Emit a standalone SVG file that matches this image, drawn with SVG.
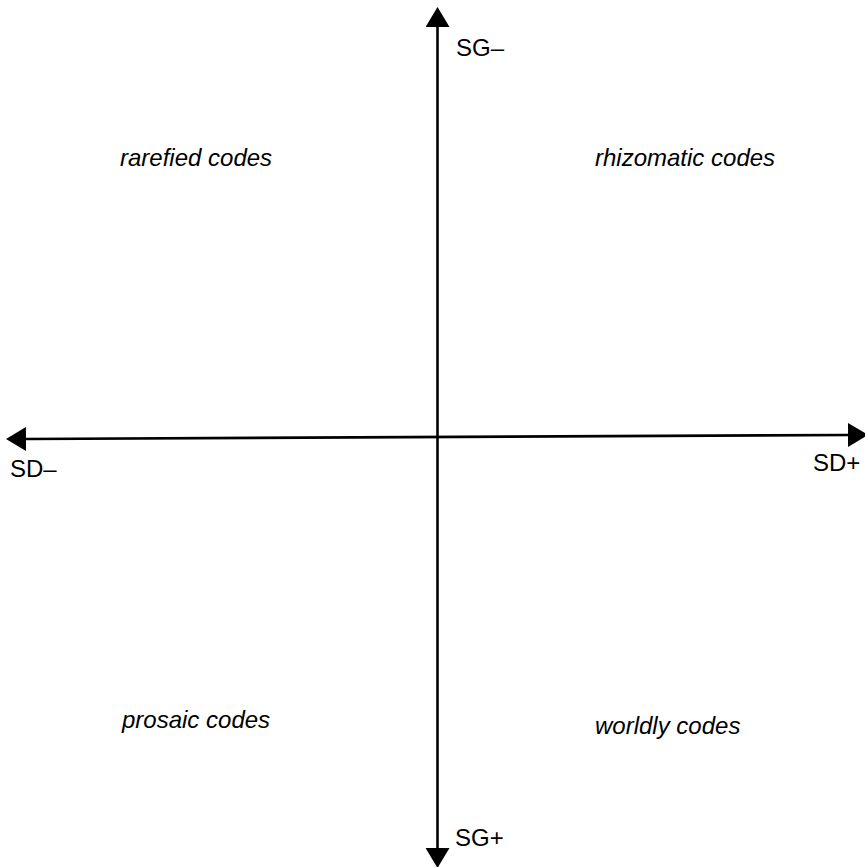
<svg xmlns="http://www.w3.org/2000/svg" width="865" height="867" viewBox="0 0 865 867">
<style>
.axis{stroke:#000;stroke-width:2.6;fill:none}
.lab{font-family:"Liberation Sans",Arial,sans-serif;font-size:24px;fill:#000}
.q{font-family:"Liberation Sans",Arial,sans-serif;font-size:24px;font-style:italic;fill:#000}
</style>
<defs>
<marker id="ah" viewBox="0 0 20 24" markerWidth="20" markerHeight="24" refX="0" refY="12" orient="auto-start-reverse" markerUnits="userSpaceOnUse">
<path d="M0,0 L20,12 L0,24 Z" fill="#000"/>
</marker>
</defs>
<rect width="865" height="867" fill="#fff"/>
<g id="connectors">
<line class="axis" x1="437.5" y1="848" x2="437.5" y2="27" marker-start="url(#ah)" marker-end="url(#ah)"/>
<line class="axis" x1="26" y1="439" x2="848" y2="435" marker-start="url(#ah)" marker-end="url(#ah)"/>
</g>
<g id="axis-labels">
<text class="lab" x="456" y="56">SG–</text>
<text class="lab" x="455" y="846">SG+</text>
<text class="lab" x="10" y="477">SD–</text>
<text class="lab" x="813" y="471">SD+</text>
</g>
<g id="rarefied"><text class="q" x="120" y="166">rarefied codes</text></g>
<g id="rhizomatic"><text class="q" x="595" y="166">rhizomatic codes</text></g>
<g id="prosaic"><text class="q" x="122" y="728">prosaic codes</text></g>
<g id="worldly"><text class="q" x="595" y="734">worldly codes</text></g>
</svg>
